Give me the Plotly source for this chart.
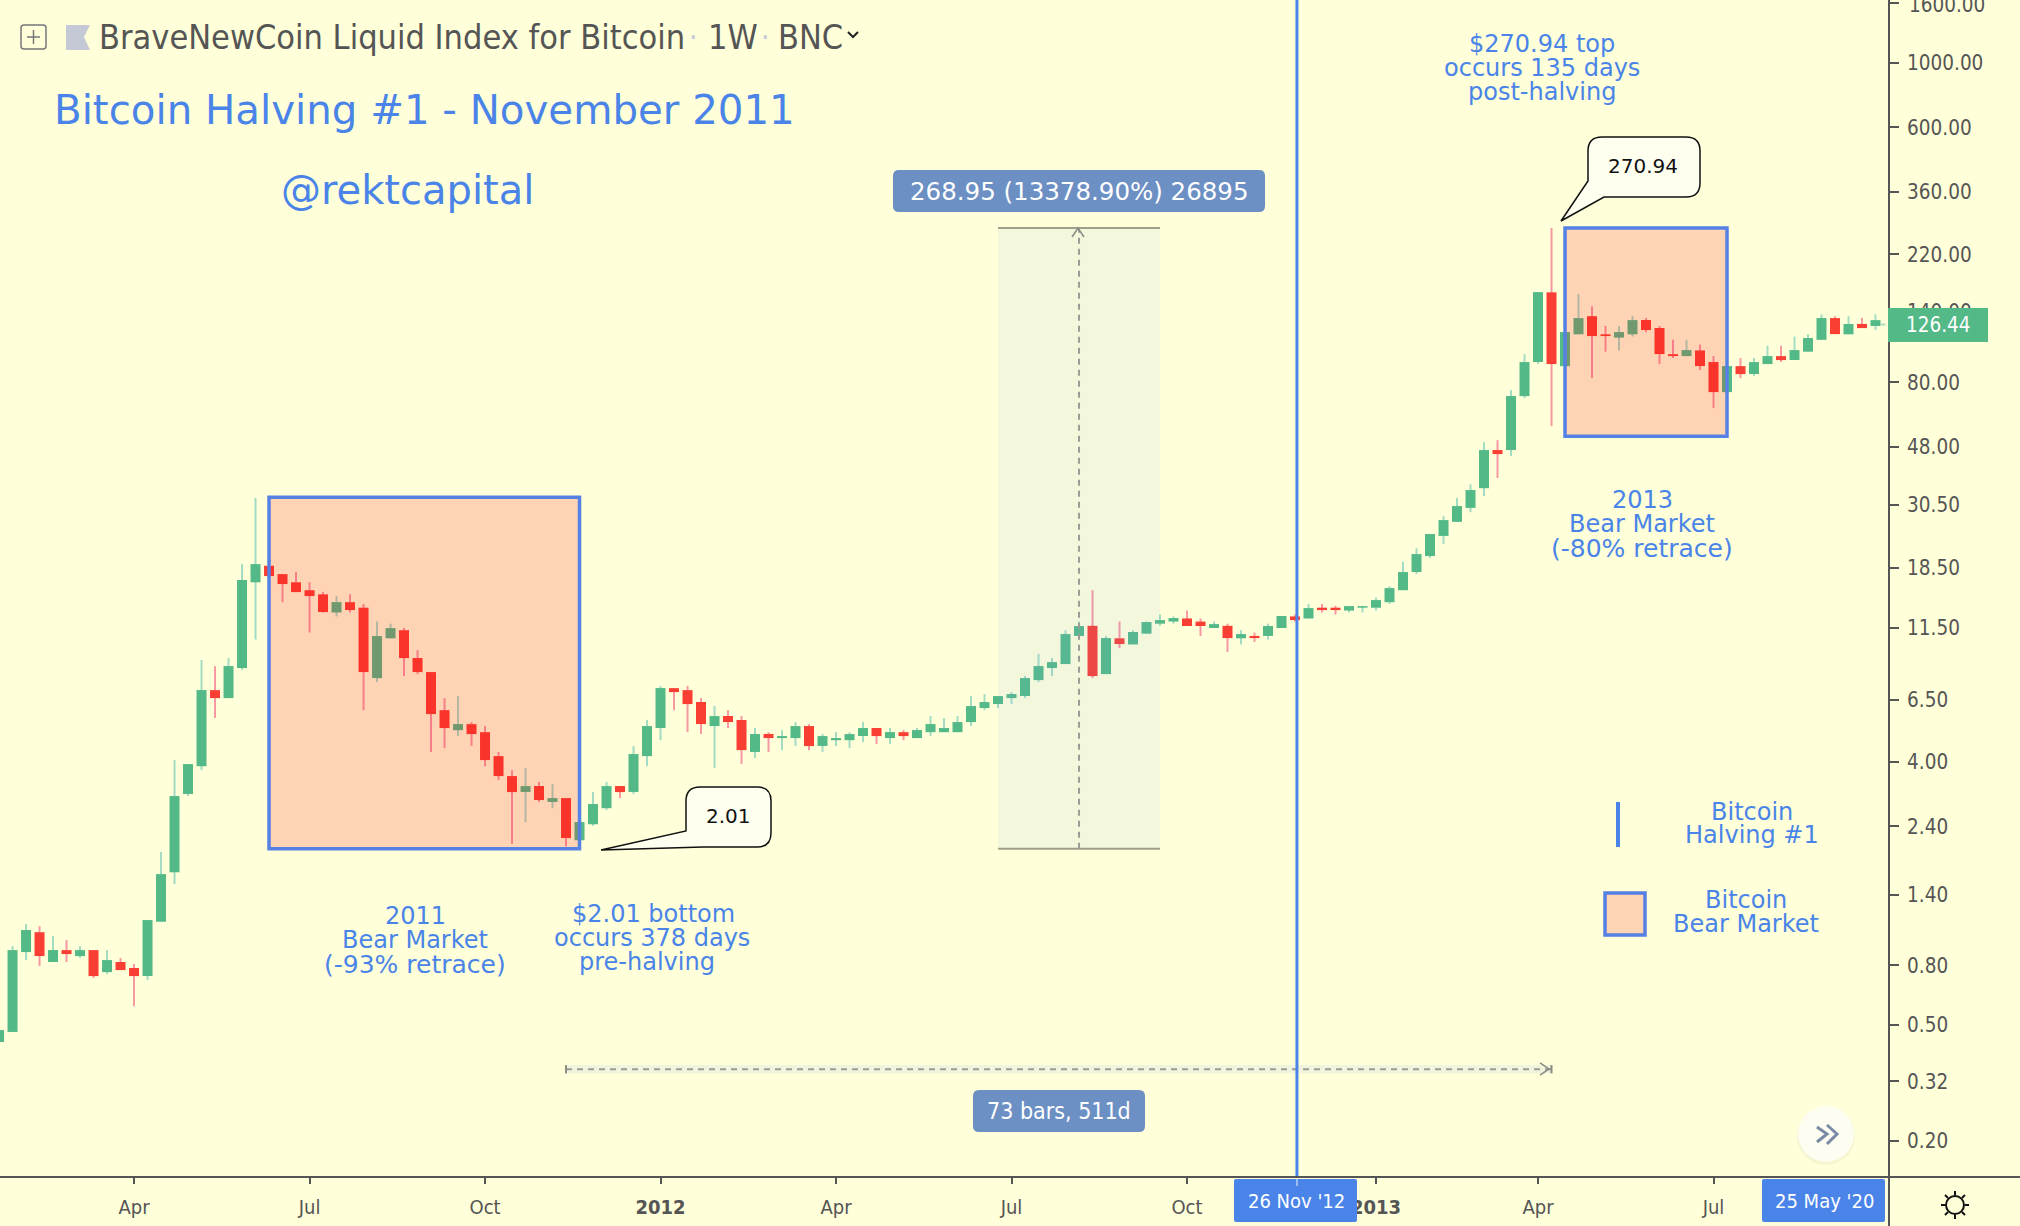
import pandas as pd
import plotly.graph_objects as go

# ---------- data ----------
FIRST_BAR = '2011-01-24'
opens = [0.437,0.473,0.889,1.04,0.822,0.903,0.861,0.903,0.759,0.822,0.784,0.736,1.13,1.67,3.1,3.86,7.04,6.61,8.38,16.5,18.8,17.6,16.5,15.5,
15,13,14.1,13.5,7.74,10.6,11.3,9.07,8.12,6.01,5.13,5.38,5.05,4.18,3.57,3.15,3.3,2.91,3,2.15,2.44,2.77,3.3,3.15,
4.18,5.22,7.15,7.04,6.41,5.3,5.74,5.56,4.32,4.98,4.82,4.82,5.3,4.53,4.74,4.74,4.9,5.22,4.82,5.05,4.82,5.05,5.05,5.05,
5.47,6.11,6.31,6.61,6.72,7.62,8.38,8.65,10.8,11.7,7.99,10.6,10.1,11,11.9,12.1,12.4,12.1,11.5,11.7,10.6,10.8,10.8,11.5,
12.6,12.4,13.5,13.5,13.2,13.5,13.5,14.1,15.5,17.9,20.3,23.8,26.6,29.7,34.7,46.9,46.9,71.8,94,163,91,117,135,117,
114,117,131,123,100,98.5,103,94,74.1,91,85.5,92.5,98.5,95.5,102,112,133,117,127,125]
highs = [0.48,0.932,1.11,1.09,1.01,0.977,0.932,0.903,0.903,0.848,0.809,1.14,1.96,4.05,3.93,8.93,8.51,9.07,19.1,32.1,18.8,17.6,17.9,16.5,
15.3,14.8,15,13.9,12.1,11.9,11.5,9.66,8.12,6.61,6.72,5.47,5.3,4.32,3.74,3.8,3.41,3.35,3,2.48,3.15,3.41,3.3,4.53,
5.56,7.27,7.15,7.27,6.61,6.21,6.01,5.74,5.22,5.05,5.13,5.47,5.38,4.98,5.05,5.05,5.47,5.22,5.22,5.13,5.22,5.74,5.65,5.74,
6.72,6.82,6.72,6.93,7.87,9.36,9.07,11.3,12.1,15.5,10.8,12.1,11.3,12.1,12.8,12.6,13.2,12.4,12.1,11.9,11.3,11.1,11.9,12.6,
12.8,13.9,13.9,13.7,13.7,13.7,14.6,16,19.4,21.6,24.1,27.8,32.1,35.8,49.9,50.7,75.3,100,163,271,119,161,146,125,
125,135,133,125,112,112,108,98.5,91,97,97,107,107,115,117,137,135,135,133,137]
lows = [0.437,0.473,0.835,0.796,0.822,0.822,0.848,0.724,0.747,0.771,0.58,0.713,1.13,1.52,3.05,3.74,5.65,6.61,8.25,10.5,17.3,14.1,15.3,11.1,
13,12.6,13,6.01,7.5,10.6,7.87,7.99,4.32,4.45,4.9,4.53,3.86,3.46,2.09,2.48,2.91,2.77,2.05,2.15,2.41,2.73,3,3.1,
3.86,4.74,6.01,5.05,4.98,3.8,5.22,3.93,4.12,4.32,4.38,4.53,4.38,4.32,4.53,4.45,4.67,4.6,4.6,4.74,4.82,4.9,5.05,5.05,
5.3,6.01,6.11,6.31,6.61,7.5,7.87,8.65,10.5,7.74,7.99,9.81,10.1,11,11.7,11.9,11.7,10.8,11.5,9.51,10.1,10.3,10.5,11.5,
12.1,12.4,13,12.8,13,13,13.2,13.9,15.5,17.6,20,22.3,26.6,28.7,32.6,37.6,44.7,70.7,92.5,56.7,91,117,82.8,102,
103,115,119,92.5,97,98.5,88.2,65.3,74.1,82.8,84.1,92.5,94,95.5,102,112,117,117,123,121]
closes = [0.4801,0.9032,1.058,0.8614,0.9032,0.8751,0.9032,0.7355,0.8346,0.7712,0.7355,1.145,1.646,3.049,3.925,7.043,6.611,8.513,16.79,19.05,17.33,16.27,15.27,14.8,
13.04,14.11,13.25,8.119,10.79,11.49,9.068,8.119,5.826,5.217,5.384,4.975,4.051,3.57,3.146,3.299,2.954,3.001,2.188,2.483,2.862,3.299,3.146,4.248,
5.3,7.155,6.932,6.305,5.384,5.735,5.47,4.384,4.975,4.82,4.897,5.3,4.525,4.897,4.82,4.975,5.217,4.897,5.054,4.897,5.135,5.384,5.217,5.47,
6.207,6.406,6.717,6.824,7.743,8.513,8.786,10.96,11.68,7.866,10.62,10.13,11.14,12.05,12.24,12.44,11.68,11.68,11.86,10.62,10.96,10.62,11.68,12.64,
12.24,13.46,13.25,13.25,13.67,13.67,14.34,15.76,17.89,20.62,24.15,26.97,30.13,34.19,46.89,45.43,71.83,93.96,163.3,92.49,119.1,133.0,115.4,115.4,
119.1,130.9,121.0,100.1,98.52,103.3,91.04,74.14,91.04,85.46,93.96,98.52,95.46,103.3,113.6,133.0,117.2,126.9,122.9,130.9]
last_price = 126.44
y_ticks = [1600,1000,600,360,220,140,80,48,30.5,18.5,11.5,6.5,4,2.4,1.4,0.8,0.5,0.32,0.2]
x_tick_dates = ['2011-04-04','2011-07-04','2011-10-03','2012-01-02','2012-04-02','2012-07-02','2012-10-01','2013-01-07','2013-04-01','2013-07-01']
x_tick_text = ['Apr','Jul','Oct','<b>2012</b>','Apr','Jul','Oct','<b>2013</b>','Apr','Jul']
bear1 = dict(start='2011-06-13', end='2011-11-21', low=2.01, high=32.3)
bear2 = dict(start='2013-04-15', end='2013-07-08', low=52.3, high=270.94)
halving_date = '2012-11-27'
range_box = dict(start='2012-06-25', end='2012-09-17', mid='2012-08-06', low=2.01, high=270.96)
span = dict(start='2011-11-14', end='2013-04-08', price=0.352, band_low=0.341, band_high=0.364)

# ---------- styling ----------
BG='#FFFFD9'; BLUE='#4A84E8'; GREEN='#53B987'; RED='#F93F33'; WG='#A3DCC4'; WR='#F898A4'; AX='#555555'
LABEL='#6C90C4'; COND='DejaVu Sans Condensed, DejaVu Sans'; SANS='DejaVu Sans'
PW,PH=1889,1177

dates = list(pd.date_range(FIRST_BAR, periods=len(opens), freq='7D'))
fig = go.Figure()
for col,test in ((WG, lambda o,c:c>=o),(WR, lambda o,c:c<o)):
    xs=[];ys=[]
    for d,o,h,l,c in zip(dates,opens,highs,lows,closes):
        if test(o,c):
            xs+=[d,d,None]; ys+=[h,l,None]
    fig.add_trace(go.Scatter(x=xs,y=ys,mode='lines',line=dict(color=col,width=2),hoverinfo='skip',showlegend=False))
for col,test in ((GREEN, lambda o,c:c>=o),(RED, lambda o,c:c<o)):
    xs=[];ys=[]
    for d,o,c in zip(dates,opens,closes):
        if test(o,c):
            xs+=[d,d,None]; ys+=[o,c,None]
    fig.add_trace(go.Scatter(x=xs,y=ys,mode='lines',line=dict(color=col,width=10),hoverinfo='skip',showlegend=False))
fig.add_trace(go.Scatter(x=['2013-09-26','2013-09-30'],y=[last_price,last_price],mode='lines',line=dict(color=WG,width=2,dash='4px,3px'),hoverinfo='skip',showlegend=False))

def px(x): return x/PW
def py(y): return 1-y/PH
shapes=[]; ann=[]
def data_rect(x0,x1,y0,y1,fill,line=None,lw=0):
    shapes.append(dict(type='rect',xref='x',yref='y',x0=x0,x1=x1,y0=y0,y1=y1,fillcolor=fill,line=dict(color=line or 'rgba(0,0,0,0)',width=lw)))
def data_line(x0,x1,y0,y1,color,w,dash='solid'):
    shapes.append(dict(type='line',xref='x',yref='y',x0=x0,x1=x1,y0=y0,y1=y1,line=dict(color=color,width=w,dash=dash)))
def path(pts,color=None,w=0,fill=None,close=False):
    d='M'+' L'.join(f'{px(x):.5f},{py(y):.5f}' for x,y in pts)+(' Z' if close else '')
    shapes.append(dict(type='path',xref='paper',yref='paper',path=d,fillcolor=fill or 'rgba(0,0,0,0)',line=dict(color=color or 'rgba(0,0,0,0)',width=w)))
def rrect(x0,y0,x1,y1,r,fill=None,color=None,w=0):
    P=lambda x,y:f'{px(x):.5f},{py(y):.5f}'
    d=(f'M{P(x0+r,y0)} L{P(x1-r,y0)} Q{P(x1,y0)} {P(x1,y0+r)} L{P(x1,y1-r)} Q{P(x1,y1)} {P(x1-r,y1)} '
       f'L{P(x0+r,y1)} Q{P(x0,y1)} {P(x0,y1-r)} L{P(x0,y0+r)} Q{P(x0,y0)} {P(x0+r,y0)} Z')
    shapes.append(dict(type='path',xref='paper',yref='paper',path=d,fillcolor=fill or 'rgba(0,0,0,0)',line=dict(color=color or 'rgba(0,0,0,0)',width=w)))
def callout(x0,y0,x1,y1,r,tail):
    P=lambda x,y:f'{px(x):.5f},{py(y):.5f}'
    a,tip,b=tail
    d=(f'M{P(x0+r,y0)} L{P(x1-r,y0)} Q{P(x1,y0)} {P(x1,y0+r)} L{P(x1,y1-r)} Q{P(x1,y1)} {P(x1-r,y1)} '
       f'L{P(*b)} L{P(*tip)} L{P(*a)} L{P(x0,y0+r)} Q{P(x0,y0)} {P(x0+r,y0)} Z')
    shapes.append(dict(type='path',xref='paper',yref='paper',path=d,fillcolor='#FFFFF0',line=dict(color='#111111',width=1.5)))
def text(x,y,t,size,color=BLUE,family=SANS,anchor='center'):
    ann.append(dict(xref='paper',yref='paper',x=px(x),y=py(y),text=t,showarrow=False,xanchor=anchor,yanchor='middle',
                    font=dict(family=family,size=size,color=color)))
def circle(cx,cy,r,fill=None,color=None,w=0):
    shapes.append(dict(type='circle',xref='paper',yref='paper',x0=px(cx-r),x1=px(cx+r),y0=py(cy-r),y1=py(cy+r),
                       fillcolor=fill or 'rgba(0,0,0,0)',line=dict(color=color or 'rgba(0,0,0,0)',width=w)))

# price range tool
data_rect(range_box['start'],range_box['end'],range_box['low'],range_box['high'],'rgba(120,165,255,0.09)')
for p in (range_box['low'],range_box['high']):
    data_line(range_box['start'],range_box['end'],p,p,'#A0A08A',2)
data_line(range_box['mid'],range_box['mid'],range_box['low'],range_box['high'],'#9C9C94',2,'6px,5px')
path([(1072,237),(1078,228),(1084,237)],'#8A8A82',1.5)
# date range tool
data_rect(span['start'],span['end'],span['band_low'],span['band_high'],'rgba(120,165,255,0.12)')
data_line(span['start'],span['end'],span['price'],span['price'],'#9C9C94',2,'6px,5px')
data_line(span['start'],span['start'],span['band_low'],span['band_high'],'#8A8A82',2)
data_line(span['end'],span['end'],span['band_low'],span['band_high'],'#8A8A82',2)
path([(1540,1063),(1549,1069),(1540,1075)],'#8A8A82',1.5)
# bear market boxes
for b in (bear1,bear2):
    data_rect(b['start'],b['end'],b['low'],b['high'],'rgba(255,0,0,0.17)','#5580E4',3.5)
# halving line
data_line(halving_date,halving_date,0.1504,1641,BLUE,3)
# axes
path([(PW,0),(PW,1226)],AX,2)
path([(0,PH),(2020,PH)],AX,2)
# callouts
callout(686,787,771,847,14,((686,831),(601,850),(703,847)))
text(728,816,'2.01',20,'#111111')
callout(1588,137,1700,197,14,((1588,181),(1561,221),(1604,197)))
text(1643,166,'270.94',20,'#111111')
# labels
rrect(893,170,1265,212,6,LABEL)
text(1079,191,'268.95 (13378.90%) 26895',24.5,'white')
rrect(973,1090,1145,1132,6,LABEL)
text(1059,1111,'73 bars, 511d',23,'white',COND)
text(1907,5,'1600.00',20.5,AX,COND,'left')
shapes.append(dict(type='rect',xref='paper',yref='paper',x0=px(1888),x1=px(1988),y0=py(308),y1=py(342),fillcolor=GREEN,line=dict(width=0)))
text(1939,325,'126.44',20.5,'white',COND)
rrect(1234,1179,1357,1222,2,BLUE)
path([(1297,1179),(1297,1186)],'#B8CFF5',1.5)
text(1296,1201,"26 Nov '12",20,'white',COND)
rrect(1762,1179,1885,1222,2,BLUE)
text(1824,1201,"25 May '20",20,'white',COND)
# blue notes
text(52,110,'Bitcoin Halving #1 - November 2011',40.3,anchor='left')
text(279,190,'@rektcapital',40,anchor='left')
for t,y in (('$270.94 top',44),('occurs 135 days',68),('post-halving',92)): text(1542,y,t,24)
for t,y,s in (('2013',500,24),('Bear Market',524,24),('(-80% retrace)',548,25)): text(1642,y,t,s)
for t,y,s in (('2011',916,24),('Bear Market',940,24),('(-93% retrace)',964,25)): text(415,y,t,s)
for t,x,y in (('$2.01 bottom',653,914),('occurs 378 days',652,938),('pre-halving',647,962)): text(x,y,t,24)
for t,y in (('Bitcoin',812),('Halving #1',835)): text(1752,y,t,24)
for t,y in (('Bitcoin',900),('Bear Market',924)): text(1746,y,t,24)
path([(1618,802),(1618,847)],BLUE,4)
shapes.append(dict(type='rect',xref='paper',yref='paper',x0=px(1605),x1=px(1645),y0=py(893),y1=py(935),fillcolor='#FFD4B2',line=dict(color='#5580E4',width=3.5)))
# header
rrect(21,25,46,49,3,None,'#77777C',1.5)
path([(27,37),(40,37)],'#77777C',1.5); path([(33.5,30),(33.5,44)],'#77777C',1.5)
path([(66,25),(90,25),(84,37),(90,50),(66,50)],None,0,'#C5C9D6',True)
text(97,37,"BraveNewCoin Liquid Index for Bitcoin",34,'#555555',COND,'left')
text(693,37,"·",30,'#C5C9D6',COND)
text(706,37,"1W",34,'#555555',COND,'left')
text(765,37,"·",30,'#C5C9D6',COND)
text(776,37,"BNC",34,'#555555',COND,'left')
path([(848,32),(853,37),(858,32)],'#222222',2)
# scroll button
circle(1826,1136,29,'rgba(0,0,0,0.04)')
circle(1826,1134,28,'#FDFDF2')
path([(1817,1127),(1827,1134),(1817,1142)],'#7B8BA6',3)
path([(1827,1125),(1837,1134),(1827,1144)],'#7B8BA6',3)
# sun icon
circle(1955,1205,9,None,'#111111',2)
for a,b,c,d in ((1955,1191,1955,1195),(1955,1215,1955,1219),(1941,1205,1945,1205),(1965,1205,1969,1205),(1945,1195,1948,1198),(1965,1195,1962,1198),(1945,1215,1948,1212),(1965,1215,1962,1212)):
    path([(a,b),(c,d)],'#111111',2)

fig.update_layout(width=2020,height=1226,margin=dict(l=0,r=131,t=0,b=49,pad=0,autoexpand=False),
    paper_bgcolor=BG,plot_bgcolor=BG,showlegend=False,shapes=shapes,annotations=ann,hovermode=False,
    xaxis=dict(type='date',range=['2011-01-24 12:00','2013-09-30'],showgrid=False,zeroline=False,showline=False,
        tickmode='array',tickvals=x_tick_dates,ticktext=x_tick_text,ticks='outside',ticklen=6,tickwidth=2,tickcolor=AX,
        tickfont=dict(family=COND,size=20,color=AX),ticklabelstandoff=6),
    yaxis=dict(type='log',side='right',range=[-0.8227,3.2151],showgrid=False,zeroline=False,showline=False,
        tickmode='array',tickvals=y_ticks,tickformat='.2f',ticks='outside',ticklen=9,tickwidth=2,tickcolor=AX,
        tickfont=dict(family=COND,size=20.5,color=AX),ticklabelstandoff=4))
fig.write_html("out.html",config=dict(displayModeBar=False),post_script="document.body.style.margin=0")
